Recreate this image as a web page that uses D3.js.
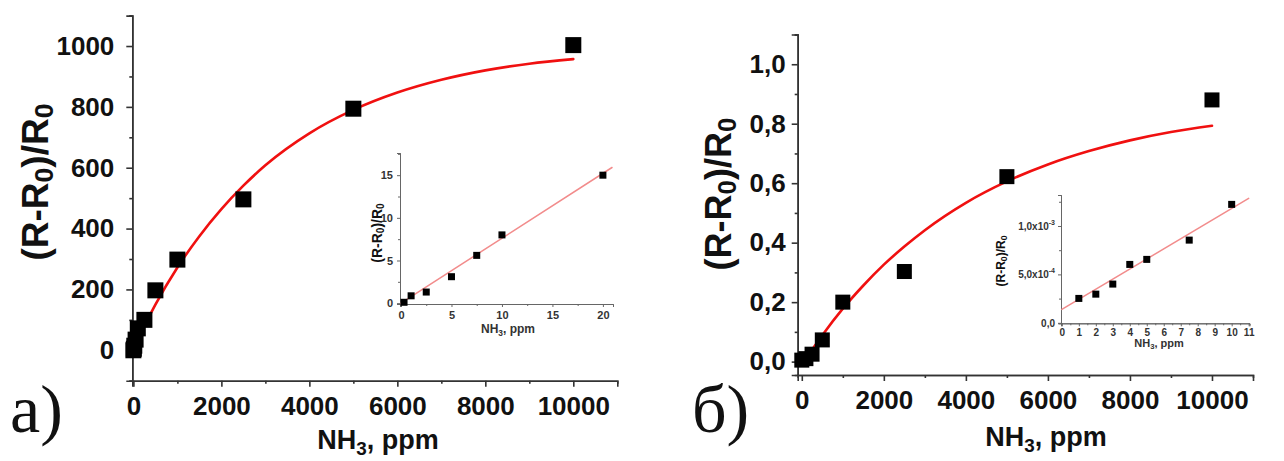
<!DOCTYPE html>
<html>
<head>
<meta charset="utf-8">
<script src="https://cdn.jsdelivr.net/npm/d3@7"></script>
<style>
  body { margin: 0; background: #fff; }
  svg { display: block; }
</style>
</head>
<body>
<svg id="fig" width="1284" height="461"></svg>
<script>
// ---- panel a): sensor response vs NH3 concentration ----
const concA = [0, 10, 20, 50, 100, 250, 500, 1000, 2500, 5000, 10000];
const respA = [0, 5, 15, 35, 72, 100, 197, 298, 496, 794, 1003];
const fitConcA = [0, 500, 1000, 1500, 2000, 2500, 3000, 4000, 5000, 6000, 7000, 8000, 9000, 10000];
const fitRespA = [5, 150, 272, 375, 464, 541, 608, 713, 790, 847, 889, 920, 942, 957];

// inset a): low-concentration range
const lowConcA = [0.3, 1, 2.5, 5, 7.5, 10, 20];
const lowRespA = [0.1, 0.86, 1.3, 3.1, 5.6, 8.0, 15.0];
const lowFitConcA = [0, 20.9];
const lowFitRespA = [0, 15.9];

// ---- panel б) ----
const concB = [0, 100, 250, 500, 1000, 2500, 5000, 10000];
const respB = [0.005, 0.01, 0.025, 0.073, 0.2, 0.303, 0.622, 0.88];
const fitConcB = [0, 500, 1000, 1500, 2000, 2500, 3000, 4000, 5000, 6000, 7000, 8000, 9000, 10000];
const fitRespB = [-0.01, 0.089, 0.178, 0.256, 0.326, 0.387, 0.442, 0.534, 0.606, 0.663, 0.708, 0.744, 0.772, 0.793];

// inset б)
const lowConcB = [1, 2, 3, 4, 5, 7.5, 10];
const lowRespB = [2.52e-4, 2.96e-4, 4.0e-4, 6.03e-4, 6.55e-4, 8.54e-4, 1.223e-3];
const lowFitConcB = [0, 11];
const lowFitRespB = [1.38e-4, 1.285e-3];

// ---- tick values and labels ----
const mainXTicks = [0, 2000, 4000, 6000, 8000, 10000];
const mainXMinor = [1000, 3000, 5000, 7000, 9000];
const yTicksA = [0, 200, 400, 600, 800, 1000];
const yMinorA = [-100, 100, 300, 500, 700, 900, 1100];
const yTicksB = [0, 0.2, 0.4, 0.6, 0.8, 1.0];
const yMinorB = [0.1, 0.3, 0.5, 0.7, 0.9, 1.1];
const insetXTicksA = [0, 5, 10, 15, 20];
const insetXMinorA = [2.5, 7.5, 12.5, 17.5];
const insetYTicksA = [0, 5, 10, 15];
const insetYMinorA = [2.5, 7.5, 12.5, 17.5];
const insetXTicksB = [0, 1, 2, 3, 4, 5, 6, 7, 8, 9, 10, 11];
const insetXMinorB = [0.5, 1.5, 2.5, 3.5, 4.5, 5.5, 6.5, 7.5, 8.5, 9.5, 10.5];
const insetYTicksB = [0, 5e-4, 1e-3];
const insetYMinorB = [2.5e-4, 7.5e-4, 1.25e-3];
const insetYLabelsB = [["0,0", ""], ["5,0x10", "-4"], ["1,0x10", "-3"]];

const SANS = "'Liberation Sans', Arial, sans-serif";
const SERIF = "'Liberation Serif', 'Times New Roman', serif";
const svg = d3.select("#fig");

// axes + ticks for one panel (left and bottom spines only)
function drawAxes(g, x, y, o) {
  const x0 = x.range()[0], y0 = y.range()[0];
  const styleAxis = sel => {
    sel.select(".domain").attr("stroke", o.axisColor).attr("stroke-width", o.axisWidth);
    sel.selectAll(".tick line").attr("stroke", o.axisColor).attr("stroke-width", o.axisWidth);
    sel.selectAll("text").attr("font-family", SANS).attr("font-weight", "bold")
       .attr("font-size", o.fontSize).attr("fill", o.textColor);
  };
  // minor ticks
  g.append("g").attr("transform", `translate(0,${y0})`)
    .call(d3.axisBottom(x).tickValues(o.xMinor).tickSize(o.minorLen).tickFormat(""))
    .call(styleAxis);
  g.append("g").attr("transform", `translate(${x0},0)`)
    .call(d3.axisLeft(y).tickValues(o.yMinor).tickSize(o.minorLen).tickFormat(""))
    .call(styleAxis);
  // major ticks
  const gx = g.append("g").attr("transform", `translate(0,${y0})`)
    .call(d3.axisBottom(x).tickValues(o.xTicks).tickSize(o.majorLen).tickPadding(o.padX).tickFormat(o.fmtX))
    .call(styleAxis);
  const gy = g.append("g").attr("transform", `translate(${x0},0)`)
    .call(d3.axisLeft(y).tickValues(o.yTicks).tickSize(o.majorLen).tickPadding(o.padY).tickFormat(o.fmtY))
    .call(styleAxis);
  return { gx, gy };
}

function drawSquares(g, x, y, xs, ys, size) {
  g.selectAll(null).data(d3.range(xs.length)).join("rect")
    .attr("x", i => x(xs[i]) - size / 2)
    .attr("y", i => y(ys[i]) - size / 2)
    .attr("width", size).attr("height", size)
    .attr("fill", "#000");
}

function drawFit(g, x, y, xs, ys, color, width, curve) {
  const line = d3.line().x(i => x(xs[i])).y(i => y(ys[i])).curve(curve);
  g.append("path").attr("d", line(d3.range(xs.length)))
    .attr("fill", "none").attr("stroke", color).attr("stroke-width", width)
    .attr("stroke-linecap", "round");
}

// response title (R-R0)/R0 with subscripts
function respTitle(g, cx, cy, size) {
  const t = g.append("text")
    .attr("transform", `translate(${cx},${cy}) rotate(-90)`)
    .attr("text-anchor", "middle").attr("dominant-baseline", "central")
    .attr("font-family", SANS).attr("font-weight", "bold").attr("font-size", size).attr("fill", "#111");
  t.append("tspan").text("(R-R");
  t.append("tspan").text("0").attr("font-size", size * 0.72).attr("dy", size * 0.24);
  t.append("tspan").text(")/R").attr("dy", -size * 0.24);
  t.append("tspan").text("0").attr("font-size", size * 0.72).attr("dy", size * 0.24);
}

function concTitle(g, cx, by, size, color) {
  const t = g.append("text").attr("x", cx).attr("y", by)
    .attr("text-anchor", "middle")
    .attr("font-family", SANS).attr("font-weight", "bold").attr("font-size", size).attr("fill", color);
  t.append("tspan").text("NH");
  t.append("tspan").text("3").attr("font-size", size * 0.7).attr("dy", size * 0.22);
  t.append("tspan").text(", ppm").attr("dy", -size * 0.22);
}

const commaFmt = d => d3.format(".1f")(d).replace(".", ",");

// ================= panel a) =================
{
  const g = svg.append("g");
  const x = d3.scaleLinear().domain([-25, 11000]).range([132.3, 617.3]);
  const y = d3.scaleLinear().domain([-100, 1100]).range([380.7, 15.6]);
  drawAxes(g, x, y, {
    xTicks: mainXTicks, xMinor: mainXMinor, yTicks: yTicksA, yMinor: yMinorA,
    fmtX: d3.format("d"), fmtY: d3.format("d"),
    majorLen: 6, minorLen: 3, padX: 10, padY: 12,
    fontSize: 26, axisColor: "#333", axisWidth: 1.6, textColor: "#111"
  });
  drawFit(g, x, y, fitConcA, fitRespA, "#f01010", 2.6, d3.curveMonotoneX);
  drawSquares(g, x, y, concA, respA, 16);
  respTitle(g, 35, 182, 37);
  concTitle(g, 378, 449, 27, "#111");
  g.append("text").attr("x", 10).attr("y", 432)
    .attr("font-family", SERIF).attr("font-size", 68).attr("fill", "#111").text("a)");

  // inset
  const xi = d3.scaleLinear().domain([-0.1, 21]).range([400, 613]);
  const yi = d3.scaleLinear().domain([-0.1, 17.6]).range([304, 153]);
  drawAxes(g, xi, yi, {
    xTicks: insetXTicksA, xMinor: insetXMinorA, yTicks: insetYTicksA, yMinor: insetYMinorA,
    fmtX: d3.format("d"), fmtY: d3.format("d"),
    majorLen: 3, minorLen: 2, padX: 4, padY: 4,
    fontSize: 11, axisColor: "#666", axisWidth: 1, textColor: "#333"
  });
  drawFit(g, xi, yi, lowFitConcA, lowFitRespA, "#f28c8c", 1.5, d3.curveLinear);
  drawSquares(g, xi, yi, lowConcA, lowRespA, 7);
  respTitle(g, 377, 233, 14);
  concTitle(g, 508, 333, 12, "#333");
}

// ================= panel б) =================
{
  const g = svg.append("g");
  const x = d3.scaleLinear().domain([-100, 11000]).range([797.7, 1253]);
  const y = d3.scaleLinear().domain([-0.045, 1.1]).range([375, 34.5]);
  drawAxes(g, x, y, {
    xTicks: mainXTicks, xMinor: mainXMinor, yTicks: yTicksB, yMinor: yMinorB,
    fmtX: d3.format("d"), fmtY: commaFmt,
    majorLen: 6, minorLen: 3, padX: 10, padY: 6,
    fontSize: 26, axisColor: "#333", axisWidth: 1.6, textColor: "#111"
  });
  drawFit(g, x, y, fitConcB, fitRespB, "#f01010", 2.6, d3.curveMonotoneX);
  drawSquares(g, x, y, concB, respB, 15);
  respTitle(g, 718, 194, 36);
  concTitle(g, 1046, 446, 27, "#111");
  g.append("text").attr("x", 692).attr("y", 432)
    .attr("font-family", SERIF).attr("font-size", 68).attr("fill", "#111").text("б)");

  // inset
  const xi = d3.scaleLinear().domain([-0.05, 11.05]).range([1061, 1249.5]);
  const yi = d3.scaleLinear().domain([-0.000005, 0.00132]).range([323.3, 195]);
  const { gy } = drawAxes(g, xi, yi, {
    xTicks: insetXTicksB, xMinor: insetXMinorB, yTicks: insetYTicksB, yMinor: insetYMinorB,
    fmtX: d3.format("d"), fmtY: d => "",
    majorLen: 3, minorLen: 2, padX: 3, padY: 3,
    fontSize: 10, axisColor: "#666", axisWidth: 1, textColor: "#333"
  });
  // scientific labels with superscript exponent
  gy.selectAll(".tick text").each(function (d, i) {
    const [base, sup] = insetYLabelsB[i];
    const t = d3.select(this);
    t.text(base);
    if (sup) t.append("tspan").text(sup).attr("font-size", 7).attr("dy", -5);
  });
  drawFit(g, xi, yi, lowFitConcB, lowFitRespB, "#f28c8c", 1.5, d3.curveLinear);
  drawSquares(g, xi, yi, lowConcB, lowRespB, 7);
  respTitle(g, 1001, 261, 12);
  concTitle(g, 1159, 347, 11, "#333");
}
</script>
</body>
</html>
